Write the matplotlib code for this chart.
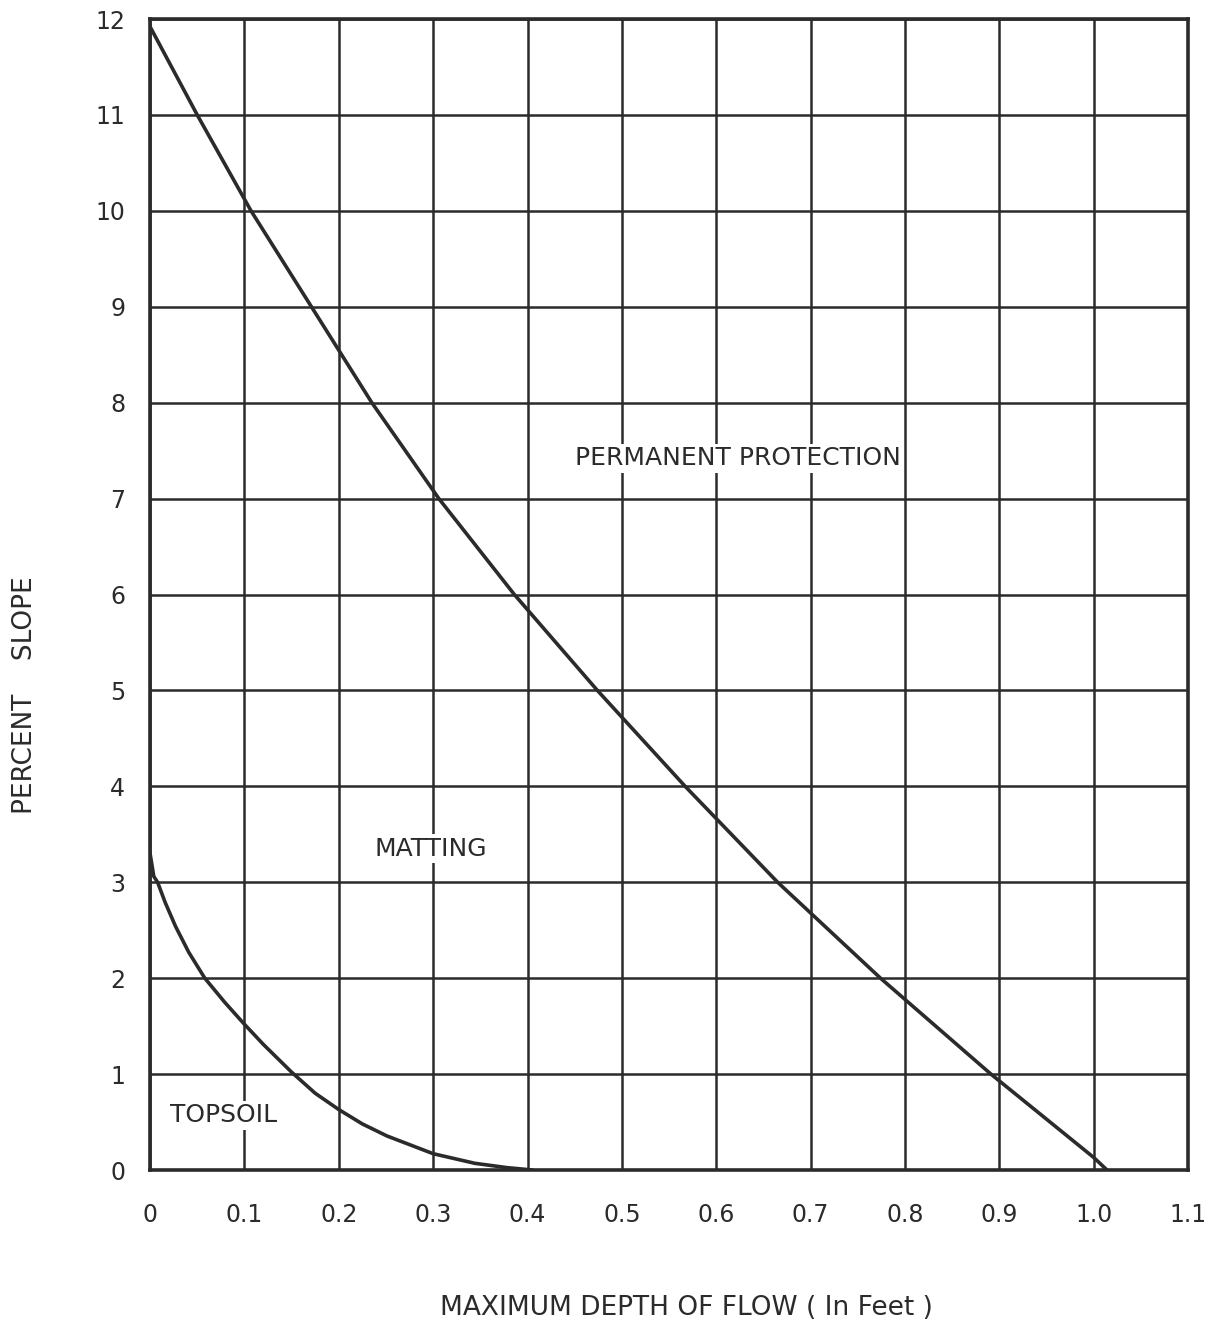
import matplotlib
matplotlib.use("Agg")
import matplotlib.pyplot as plt

# ---- data ----
x_ticks = [0, 0.1, 0.2, 0.3, 0.4, 0.5, 0.6, 0.7, 0.8, 0.9, 1.0, 1.1]
x_tick_labels = ["0", "0.1", "0.2", "0.3", "0.4", "0.5", "0.6", "0.7", "0.8", "0.9", "1.0", "1.1"]
y_ticks = [0, 1, 2, 3, 4, 5, 6, 7, 8, 9, 10, 11, 12]
y_tick_labels = ["0", "1", "2", "3", "4", "5", "6", "7", "8", "9", "10", "11", "12"]

# upper boundary: MATTING / PERMANENT PROTECTION
upper_x = [0.0, 0.05, 0.107, 0.171, 0.235, 0.306, 0.386, 0.474, 0.567, 0.665, 0.774, 0.891, 1.0, 1.014]
upper_y = [11.92, 11.0, 10.0, 9.0, 8.0, 7.0, 6.0, 5.0, 4.0, 3.0, 2.0, 1.0, 0.13, 0.0]

# lower boundary: TOPSOIL / MATTING
lower_x = [0.0, 0.004, 0.008, 0.016, 0.027, 0.041, 0.058, 0.079, 0.099, 0.12,
           0.15, 0.175, 0.2, 0.225, 0.251, 0.3, 0.344, 0.378, 0.405]
lower_y = [3.30, 3.06, 3.0, 2.79, 2.54, 2.27, 2.0, 1.75, 1.53, 1.31,
           1.02, 0.80, 0.63, 0.48, 0.355, 0.17, 0.07, 0.025, 0.0]

region_labels = ["PERMANENT PROTECTION", "MATTING", "TOPSOIL"]
region_x = [0.623, 0.297, 0.078]
region_y = [7.42, 3.35, 0.57]

x_label = "MAXIMUM DEPTH OF FLOW ( In Feet )"
y_label = "PERCENT    SLOPE"

# ---- figure ----
plt.rcParams['font.family'] = ['DejaVu Sans']
ink = "#2b2b2b"

fig = plt.figure(figsize=(12.17, 13.30), dpi=100)
ax = fig.add_axes([0.1233, 0.1203, 0.8530, 0.8654])

ax.set_xlim(0, 1.1)
ax.set_ylim(0, 12)
ax.set_xticks(x_ticks)
ax.set_xticklabels(x_tick_labels)
ax.set_yticks(y_ticks)
ax.set_yticklabels(y_tick_labels)
ax.tick_params(axis='both', length=0, labelsize=17, colors=ink)
ax.tick_params(axis='y', pad=18)
ax.tick_params(axis='x', pad=24)

ax.grid(True, color=ink, linewidth=1.8)
ax.set_axisbelow(True)
for s in ax.spines.values():
    s.set_color(ink)
    s.set_linewidth(2.6)

ax.plot(upper_x, upper_y, color=ink, linewidth=2.6, solid_capstyle='round',
        solid_joinstyle='round', zorder=3)
ax.plot(lower_x, lower_y, color=ink, linewidth=2.6, solid_capstyle='round',
        solid_joinstyle='round', zorder=3)

for t, xx, yy in zip(region_labels, region_x, region_y):
    ax.text(xx, yy, t, ha='center', va='center', fontsize=18, color=ink, zorder=4,
            bbox=dict(facecolor='white', edgecolor='none', pad=2))

fig.text(686 / 1217, 1 - 1308 / 1330, x_label, ha='center', va='center', fontsize=19, color=ink)
fig.text(25 / 1217, 1 - 695 / 1330, y_label, ha='center', va='center', rotation=90, fontsize=19, color=ink)

fig.savefig("out.png", dpi=100, facecolor="white")
